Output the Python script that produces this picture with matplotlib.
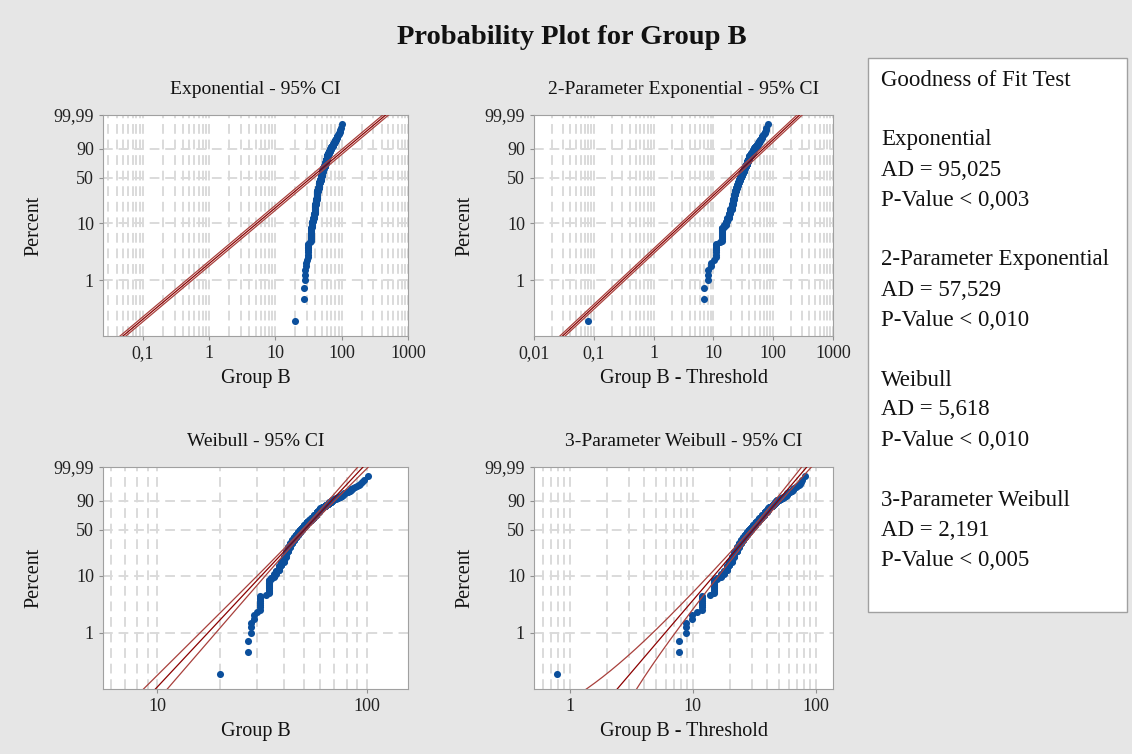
import numpy as np
import matplotlib
matplotlib.use("Agg")
import matplotlib.pyplot as plt
from matplotlib.patches import Rectangle
from matplotlib.ticker import FixedLocator, FixedFormatter, LogLocator, NullFormatter

plt.rcParams["font.family"] = ["Liberation Serif", "DejaVu Serif"]

group_b_values = [20, 27, 28, 29, 30, 31, 33, 34, 35, 36, 37, 38, 39, 40, 41, 42, 43, 44,
                  45, 46, 47, 48, 49, 50, 51, 52, 53, 54, 55, 56, 57, 58, 59, 60, 61, 62,
                  63, 64, 65, 66, 67, 68, 69, 70, 71, 72, 73, 74, 75, 76, 77, 78, 79, 80,
                  81, 82, 83, 84, 85, 86, 88, 90, 92, 93, 95, 97, 101]
group_b_counts = [1, 2, 3, 2, 1, 8, 1, 14, 3, 5, 6, 9, 9, 13, 16, 16, 15, 13,
                  13, 13, 13, 13, 12, 13, 10, 9, 9, 10, 9, 9, 9, 10, 9, 8, 4, 4,
                  5, 4, 4, 5, 4, 4, 2, 2, 2, 1, 2, 2, 2, 2, 2, 2, 1, 1,
                  1, 1, 1, 2, 1, 1, 1, 1, 1, 1, 1, 1, 1]

# fitted parameters
exp_scale = 50.0
exp2_scale = 30.0
exp2_threshold = 19.92
weib_shape = 4.0
weib_scale = 55.0
weib3_shape = 2.57
weib3_scale = 35.6
weib3_threshold = 19.22
weib3_threshold_se = 0.48

# goodness of fit table
gof_dists = ["Exponential", "2-Parameter Exponential", "Weibull", "3-Parameter Weibull"]
gof_ad = ["95,025", "57,529", "5,618", "2,191"]
gof_p = ["0,003", "0,010", "0,010", "0,005"]

data = np.repeat(group_b_values, group_b_counts).astype(float)
n = len(data)
ranks = np.arange(1, n + 1)
pct_points = 100 * (ranks - 0.3) / (n + 0.4)


def fwd(p):
    p = np.clip(np.asarray(p, dtype=float) / 100.0, 1e-12, 1 - 1e-12)
    return np.log(-np.log(1 - p))


def inv(z):
    return 100.0 * (1 - np.exp(-np.exp(z)))


z = np.linspace(-7.6, 2.4, 500)
pct = inv(z)
q = np.exp(z)
zc = 1.96


def weib_var(w, sig):
    return sig ** 2 / n * (1.1087 + 0.6079 * w ** 2 + 2 * 0.2570 * w)


# exponential
c1 = exp_scale * q
h1 = zc / np.sqrt(n)
# 2-parameter exponential
c2 = exp2_scale * q
# weibull
s3 = 1 / weib_shape
c3 = weib_scale * q ** s3
sd3 = np.sqrt(weib_var(z, s3))
# 3-parameter weibull
s4 = 1 / weib3_shape
c4 = weib3_scale * q ** s4
sd4 = np.sqrt(weib3_threshold_se ** 2 + c4 ** 2 * weib_var(z, s4))
lo4 = c4 - zc * sd4
lo4[lo4 <= 0] = np.nan

panels = [
    ("Exponential - 95% CI", "Group B", data, (0.025, 1000),
     [0.1, 1, 10, 100, 1000], ["0,1", "1", "10", "100", "1000"],
     (c1 * np.exp(-h1), c1, c1 * np.exp(h1))),
    ("2-Parameter Exponential - 95% CI", "Group B - Threshold", data - exp2_threshold, (0.01, 1000),
     [0.01, 0.1, 1, 10, 100, 1000], ["0,01", "0,1", "1", "10", "100", "1000"],
     (c2 * np.exp(-h1), c2, c2 * np.exp(h1))),
    ("Weibull - 95% CI", "Group B", data, (5.5, 157),
     [10, 100], ["10", "100"],
     (c3 * np.exp(-zc * sd3), c3, c3 * np.exp(zc * sd3))),
    ("3-Parameter Weibull - 95% CI", "Group B - Threshold", data - weib3_threshold, (0.51, 138),
     [1, 10, 100], ["1", "10", "100"],
     (lo4, c4, c4 + zc * sd4)),
]

positions = [
    [103 / 1132, 1 - 336 / 754, 305 / 1132, 221 / 754],
    [534 / 1132, 1 - 336 / 754, 299 / 1132, 221 / 754],
    [103 / 1132, 1 - 689 / 754, 305 / 1132, 222 / 754],
    [534 / 1132, 1 - 689 / 754, 299 / 1132, 222 / 754],
]

fig = plt.figure(figsize=(11.32, 7.54), dpi=100)
fig.patch.set_facecolor("#E6E6E6")

grid_kw = dict(color="#DADADA", linestyle=(0, (5, 3)), linewidth=1.4)

for (title, xlabel, xs, xlim, xt, xtl, fit), pos in zip(panels, positions):
    ax = fig.add_axes(pos)
    ax.set_facecolor("white")
    ax.set_xscale("log")
    ax.set_yscale("function", functions=(fwd, inv))
    ax.set_xlim(*xlim)
    ax.set_ylim(0.1, 99.99)

    ax.xaxis.set_major_locator(FixedLocator(xt))
    ax.xaxis.set_major_formatter(FixedFormatter(xtl))
    ax.xaxis.set_minor_locator(LogLocator(base=10, subs=range(2, 10), numticks=30))
    ax.xaxis.set_minor_formatter(NullFormatter())
    ax.yaxis.set_major_locator(FixedLocator([1, 10, 50, 90, 99.99]))
    ax.yaxis.set_major_formatter(FixedFormatter(["1", "10", "50", "90", "99,99"]))
    ax.yaxis.set_minor_locator(FixedLocator([]))

    ax.grid(True, which="both", axis="x", **grid_kw)
    ax.grid(True, which="major", axis="y", **grid_kw)
    ax.set_axisbelow(True)

    ax.tick_params(axis="both", which="major", labelsize=13, length=3,
                   color="#909090", colors="#222222")
    ax.tick_params(axis="x", which="minor", length=0)
    for sp in ax.spines.values():
        sp.set_color("#A0A0A0")

    ax.scatter(xs, pct_points, s=26, color="#0B4F9C", linewidths=0, zorder=3)
    lo, mid, hi = fit
    ax.plot(lo, pct, color="#A8403C", lw=0.9, zorder=4)
    ax.plot(hi, pct, color="#A8403C", lw=0.9, zorder=4)
    ax.plot(mid, pct, color="#8B0000", lw=0.9, zorder=4)

    ax.set_title(title, fontsize=14, pad=15, color="#111111")
    ax.set_xlabel(xlabel, fontsize=14.5, labelpad=5, color="#111111")
    ax.set_ylabel("Percent", fontsize=14.5, labelpad=7, color="#111111")

fig.text(572 / 1132, 1 - 38 / 754, "Probability Plot for Group B", ha="center", va="center",
         fontsize=20.5, fontweight="bold", color="#111111")

# goodness of fit box
fig.patches.append(Rectangle((868 / 1132, 1 - 612 / 754), 259 / 1132, 554 / 754,
                             transform=fig.transFigure, facecolor="white",
                             edgecolor="#A0A0A0", lw=1))
fig.text(881 / 1132, 1 - 80 / 754, "Goodness of Fit Test", ha="left", va="center",
         fontsize=16.5, color="#111111")
for i in range(len(gof_dists)):
    block = [gof_dists[i], "AD = " + gof_ad[i], "P-Value < " + gof_p[i]]
    for j, line in enumerate(block):
        y = 140 + 120 * i + 30 * j
        fig.text(881 / 1132, 1 - y / 754, line, ha="left", va="center",
                 fontsize=16.5, color="#111111")

fig.savefig("out.png", dpi=100, facecolor=fig.get_facecolor())
